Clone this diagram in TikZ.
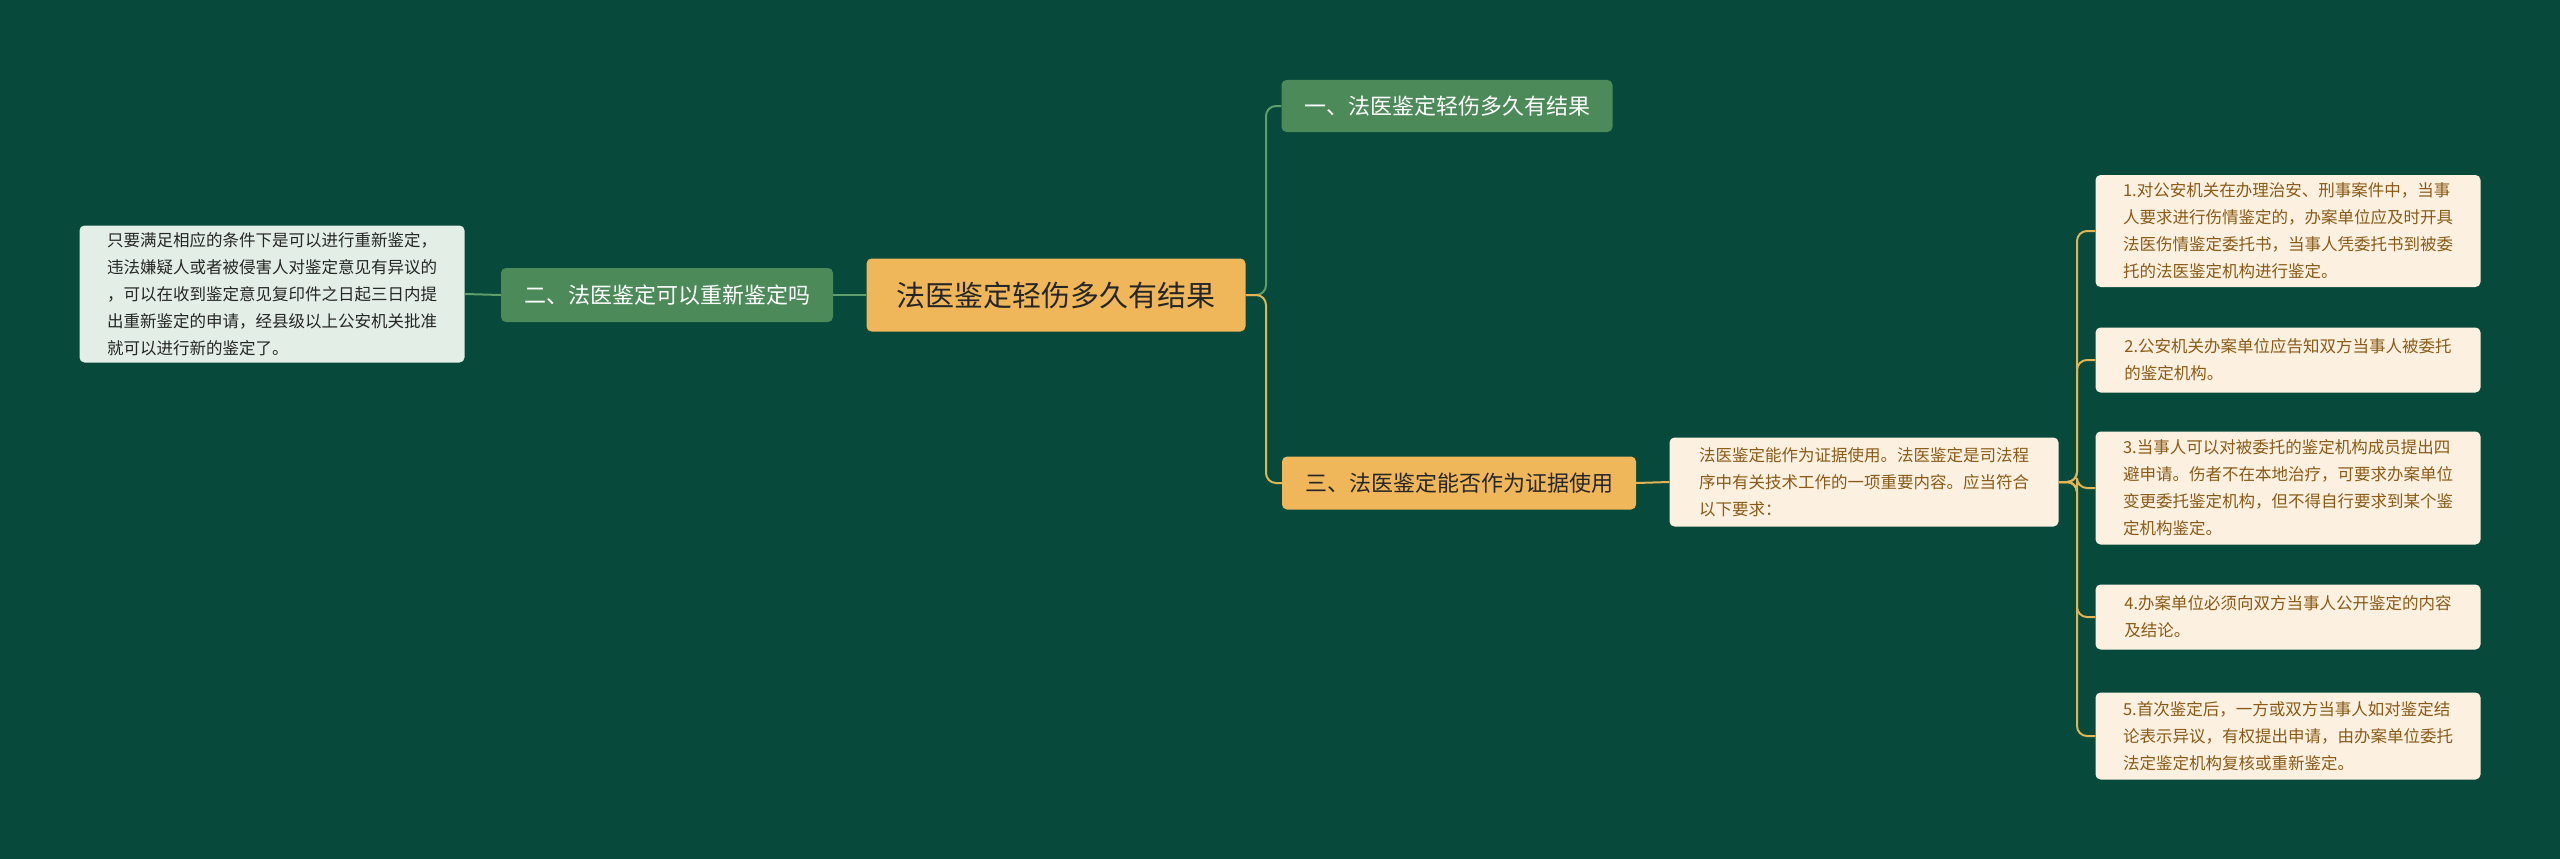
\documentclass[tikz,border=0pt]{standalone}
\usepackage{fontspec}
\setmainfont{Noto Sans CJK SC}
\definecolor{bg}{HTML}{07493A}
\definecolor{gold}{HTML}{EFB75A}
\definecolor{gline}{HTML}{E2B452}
\definecolor{grn}{HTML}{4C8A59}
\definecolor{glin}{HTML}{5E9E6B}
\definecolor{pale}{HTML}{E3EFE6}
\definecolor{cream}{HTML}{FCF1E1}
\definecolor{brown}{HTML}{8A5A16}
\begin{document}
\begin{tikzpicture}[x=1pt,y=-1pt,
 box/.style={rounded corners=5pt,inner sep=0pt,anchor=center},
 root/.style={box,fill=gold,text=black!85,font=\fontsize{29}{34}\selectfont},
 gbr/.style={box,fill=grn,text=white,font=\fontsize{22}{26}\selectfont},
 obr/.style={box,fill=gold,text=black!85,font=\fontsize{22}{26}\selectfont},
 gleaf/.style={box,fill=pale,text=black!85,font=\fontsize{16.5}{27}\selectfont,align=left},
 oleaf/.style={box,fill=cream,text=brown,font=\fontsize{16.5}{27}\selectfont,align=left},
 gl/.style={draw=glin,line width=2pt,rounded corners=10pt},
 ol/.style={draw=gline,line width=2pt,rounded corners=10pt}]
\fill[bg] (0,0) rectangle (2560,859);
\useasboundingbox (0,0) rectangle (2560,859);
\node[root,minimum width=379,minimum height=73] (c) at (1056,295) {法医鉴定轻伤多久有结果};
\node[gbr,minimum width=332,minimum height=54] (b2) at (667,295) {二、法医鉴定可以重新鉴定吗};
\node[gleaf,minimum width=385,minimum height=137] (l2) at (272,294) {只要满足相应的条件下是可以进行重新鉴定，\\违法嫌疑人或者被侵害人对鉴定意见有异议的\\，可以在收到鉴定意见复印件之日起三日内提\\出重新鉴定的申请，经县级以上公安机关批准\\就可以进行新的鉴定了。};
\node[gbr,minimum width=331,minimum height=52] (b1) at (1447,106) {一、法医鉴定轻伤多久有结果};
\node[obr,minimum width=354,minimum height=53] (b3) at (1459,483) {三、法医鉴定能否作为证据使用};
\node[oleaf,minimum width=389,minimum height=89] (m) at (1864,482) {法医鉴定能作为证据使用。法医鉴定是司法程\\序中有关技术工作的一项重要内容。应当符合\\以下要求：};
\node[oleaf,minimum width=385,minimum height=112] (r1) at (2288,231) {1.对公安机关在办理治安、刑事案件中，当事\\人要求进行伤情鉴定的，办案单位应及时开具\\法医伤情鉴定委托书，当事人凭委托书到被委\\托的法医鉴定机构进行鉴定。};
\node[oleaf,minimum width=385,minimum height=65] (r2) at (2288,360) {2.公安机关办案单位应告知双方当事人被委托\\的鉴定机构。};
\node[oleaf,minimum width=385,minimum height=113] (r3) at (2288,488) {3.当事人可以对被委托的鉴定机构成员提出四\\避申请。伤者不在本地治疗，可要求办案单位\\变更委托鉴定机构，但不得自行要求到某个鉴\\定机构鉴定。};
\node[oleaf,minimum width=385,minimum height=65] (r4) at (2288,617) {4.办案单位必须向双方当事人公开鉴定的内容\\及结论。};
\node[oleaf,minimum width=385,minimum height=87] (r5) at (2288,736) {5.首次鉴定后，一方或双方当事人如对鉴定结\\论表示异议，有权提出申请，由办案单位委托\\法定鉴定机构复核或重新鉴定。};
\draw[gl] (c.west) -- (b2.east);
\draw[gl] (b2.west) -- (l2.east);
\draw[gl] (c.east) -- (1266,295) |- (b1.west);
\draw[ol] (c.east) -- (1266,295) |- (b3.west);
\draw[ol] (b3.east) -- (m.west);
\foreach \r in {r1,r2,r3,r4,r5} \draw[ol] (m.east) -- (2077,482) |- (\r.west);
\end{tikzpicture}
\end{document}
